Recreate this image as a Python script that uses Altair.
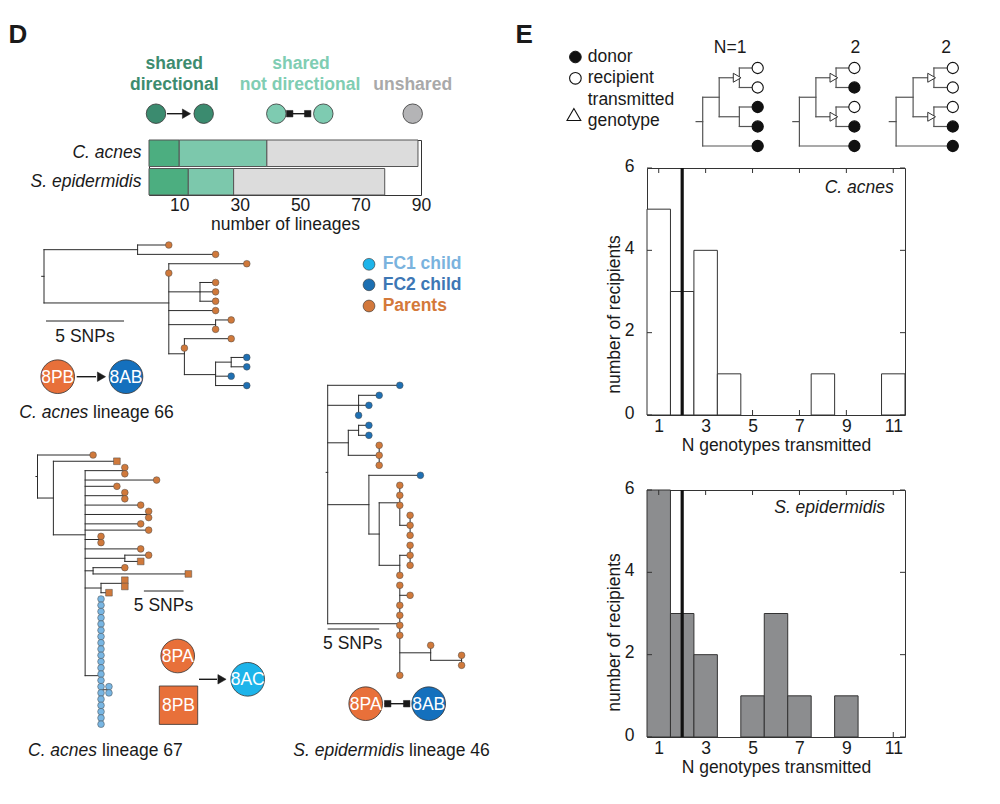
import altair as alt
import pandas as pd

FONT = "Liberation Sans"
FS = 17.5
INK = "#1a1a1a"

# ---------------- data ----------------
SPECIES = ["C. acnes", "S. epidermidis"]
SHARE_CLASSES = ["shared directional", "shared not directional", "unshared"]
LINEAGES_C_ACNES = [10, 29, 50]
LINEAGES_S_EPIDERMIDIS = [13, 15, 50]
LINEAGE_TICKS = [10, 30, 50, 70, 90]

N_GENOTYPES = [1, 2, 3, 4, 5, 6, 7, 8, 9, 10, 11]
RECIPIENTS_C_ACNES = [5, 3, 4, 1, 0, 0, 0, 1, 0, 0, 1]
RECIPIENTS_S_EPIDERMIDIS = [6, 3, 2, 0, 1, 3, 1, 0, 1, 0, 0]
MEDIAN_C_ACNES = 2
MEDIAN_S_EPIDERMIDIS = 2
GENOTYPE_TICKS = [1, 3, 5, 7, 9, 11]
RECIPIENT_TICKS = [0, 2, 4, 6]

# phylogenies as Newick strings, branch lengths in SNPs
# leaf labels: o = parent (circle), s = parent (square), b = FC2 child, c = FC1 child
TREE_CACNES_66 = ("((o:2,o:5):6,(o:5,o:0,(o:1,o:1,o:1):2,o:3,(o:1,o:0):3,"
                  "(o:3,o:0,((b:1,b:1):1,b:1,b:2):2):1):8):0.15;")
TREE_CACNES_67 = ("(o:7,(s:8,((o:0,o:0):5,o:9,o:4,(o:0,o:0):5,o:7,(o:0,o:0):8,o:7,o:8,"
                  "(o:0,o:0):2,o:7,(o:3,s:2):5,(o:4,s:12):1,((s:0,s:0):3,s:1):2,"
                  "((c:0,c:0,c:0,c:0,c:0,c:0,c:0,c:0,c:0,c:0,c:0,c:0,c:0,c:0,"
                  "c:0,c:0,c:0,c:0,c:0,c:0,c:0):0,(c@37:0,c@38:0):1):2):4):2):0.2;")
TREE_SEPI_46 = ("(b:7,(b:2,b:1,b:0):3,((b:1,b:1):1,(o:0,o:0,o:0):3):2,"
                "(b:5,((o:0,o:0,o:0,(o:0,o:0,o:0):1):2,((o:0,o:0,o:0):1,o:0):2):1):4,"
                "(o:0,o:1,o:0,o:0,o:0,o:0,(o:0,(o:0,o:0):3):3,o:0):7):0.15;")
# schematic trees: k = donor, w = recipient, t = transmitted genotype
SCHEME_TREES = [
    "(((w:1,w:1)t:1.1,(k:1,k:1):1.1):0.9,k:3):0.36;",
    "(((w:1,k:1)t:1.1,(w:1,k:1)t:1.1):0.9,k:3):0.36;",
    "(((w:1,w:1)t:1.1,(w:1,k:1)t:1.1):0.9,k:3):0.36;",
]
SCHEME_N = ["N=1", "2", "2"]

# ---------------- styles ----------------
BAR_COLORS = ["#4cae80", "#7cc8ac", "#dcdcdc"]
DG_CIRCLE, LT_CIRCLE, GR_CIRCLE = "#3b8b6f", "#7ecbb1", "#b4b4b6"
DG_TEXT, LT_TEXT, GR_TEXT = "#3d8c6f", "#80cdb3", "#a9a9a9"
ORANGE, BLUE, LIGHTBLUE, CYAN = "#d0793b", "#1f70b3", "#78b6e3", "#1db4ea"
TREE_KINDS = ["o", "s", "b", "c"]
TREE_FILLS = [ORANGE, ORANGE, BLUE, LIGHTBLUE]
TREE_SHAPES = ["circle", "square", "circle", "circle"]
MINI_KINDS = ["k", "w"]
MINI_FILLS = ["#111111", "#ffffff"]
MINI_SHAPES = ["circle", "circle"]

ONE = pd.DataFrame({"_": [0]})


def parse_newick(text):
    s = text.strip().rstrip(";")
    nodes = []
    pos = [0]

    def read_node(parent):
        idx = len(nodes)
        nodes.append({"parent": parent, "children": [], "label": "", "len": 0.0})
        if s[pos[0]] == "(":
            pos[0] += 1
            while True:
                nodes[idx]["children"].append(read_node(idx))
                ch = s[pos[0]]
                pos[0] += 1
                if ch == ")":
                    break
        start = pos[0]
        while pos[0] < len(s) and s[pos[0]] not in ":,()":
            pos[0] += 1
        nodes[idx]["label"] = s[start:pos[0]]
        if pos[0] < len(s) and s[pos[0]] == ":":
            pos[0] += 1
            start = pos[0]
            while pos[0] < len(s) and s[pos[0]] not in ",()":
                pos[0] += 1
            nodes[idx]["len"] = float(s[start:pos[0]])
        return idx

    read_node(None)
    return nodes


def tree_layout(nodes):
    n = len(nodes)
    x = [0.0] * n
    for k, nd in enumerate(nodes):
        if nd["parent"] is not None:
            x[k] = x[nd["parent"]] + nd["len"]
    y = [0.0] * n
    row = 0
    for k, nd in enumerate(nodes):
        if not nd["children"]:
            lab = nd["label"]
            if "@" in lab:
                y[k] = float(lab.split("@")[1])
            else:
                y[k] = float(row)
                row += 1
    for k in range(n - 1, -1, -1):
        ch = nodes[k]["children"]
        if ch:
            y[k] = sum(y[c] for c in ch) / len(ch)
    return x, y


def tree_chart(newick, x0, px_unit, y0, px_row, fx, fy, kinds, fills, shapes,
               dot_size, dot_stroke, dot_sw, line_color, line_w):
    nodes = parse_newick(newick)
    x, y = tree_layout(nodes)
    seg = {"x": [], "x2": [], "y": [], "y2": []}

    def add(a, b, c, d):
        seg["x"].append(a); seg["x2"].append(b); seg["y"].append(c); seg["y2"].append(d)

    for k, nd in enumerate(nodes):
        p = nd["parent"]
        if nd["len"] > 0:
            start = x[p] if p is not None else x[k] - nd["len"]
            add(start, x[k], y[k], y[k])
        if nd["children"]:
            ys = [y[c] for c in nd["children"]]
            add(x[k], x[k], min(ys), max(ys))
    leaf_idx = [k for k, nd in enumerate(nodes) if not nd["children"]]
    leaves = pd.DataFrame({
        "x": [x[k] for k in leaf_idx],
        "y": [y[k] for k in leaf_idx],
        "kind": [nodes[k]["label"].split("@")[0] for k in leaf_idx],
    })
    tri_idx = [k for k, nd in enumerate(nodes) if nd["children"] and nd["label"] == "t"]
    xmax, ymax = max(x), max(y)
    sx = alt.Scale(domain=[0, xmax], range=[fx(x0), fx(x0 + xmax * px_unit)], nice=False, zero=False)
    sy = alt.Scale(domain=[0, ymax], range=[fy(y0), fy(y0 + ymax * px_row)], nice=False, zero=False)
    layers = [
        alt.Chart(pd.DataFrame(seg)).mark_rule(color=line_color, strokeWidth=line_w, strokeCap="square").encode(
            x=alt.X("x:Q", scale=sx, axis=None), x2="x2:Q",
            y=alt.Y("y:Q", scale=sy, axis=None), y2="y2:Q"),
    ]
    if tri_idx:
        tri = pd.DataFrame({"x": [x[k] for k in tri_idx], "y": [y[k] for k in tri_idx]})
        layers.append(
            alt.Chart(tri).transform_calculate(xt="datum.x - 0.12").mark_point(
                shape="triangle-right", filled=True, fill="white", stroke="#333333",
                strokeWidth=1, size=80, opacity=1).encode(
                x=alt.X("xt:Q", scale=sx, axis=None), y=alt.Y("y:Q", scale=sy, axis=None)))
    layers.append(
        alt.Chart(leaves).mark_point(filled=True, size=dot_size, stroke=dot_stroke,
                                     strokeWidth=dot_sw, opacity=1).encode(
            x=alt.X("x:Q", scale=sx, axis=None), y=alt.Y("y:Q", scale=sy, axis=None),
            fill=alt.Fill("kind:N", scale=alt.Scale(domain=kinds, range=fills), legend=None),
            shape=alt.Shape("kind:N", scale=alt.Scale(domain=kinds, range=shapes), legend=None)))
    return layers, sx


def scale_bar(sx, start, y, fy):
    df = pd.DataFrame({"a": [start], "b": [start + 5]})
    return alt.Chart(df).mark_rule(color="#222222", strokeWidth=1).encode(
        x=alt.X("a:Q", scale=sx, axis=None), x2="b:Q", y=alt.value(fy(y)))


def txt(x, y, s, size=FS, color=INK, weight="normal", style="normal",
        align="left", baseline="middle"):
    return alt.Chart(ONE).mark_text(text=s, font=FONT, fontSize=size, color=color,
                                    fontWeight=weight, fontStyle=style, align=align,
                                    baseline=baseline).encode(x=alt.value(x), y=alt.value(y))


def dot(x, y, size, fill, shape="circle", stroke="#333333", sw=0.8):
    return alt.Chart(ONE).mark_point(shape=shape, size=size, filled=True, fill=fill,
                                     stroke=stroke, strokeWidth=sw, opacity=1).encode(
        x=alt.value(x), y=alt.value(y))


def line(x1, y1, x2, y2, color="#1a1a1a", w=1.4, opacity=1.0):
    return alt.Chart(ONE).mark_rule(color=color, strokeWidth=w, strokeOpacity=opacity).encode(
        x=alt.value(x1), y=alt.value(y1), x2=alt.value(x2), y2=alt.value(y2))


RES = dict(x="independent", y="independent", color="independent",
           fill="independent", shape="independent")

# ================= LEFT (panel D) =================
OX, OY = 148, 139
L = lambda v: v - OX
Ly = lambda v: v - OY

rows = []
for sp, vals in zip(SPECIES, [LINEAGES_C_ACNES, LINEAGES_S_EPIDERMIDIS]):
    start = 0
    for cls, v in zip(SHARE_CLASSES, vals):
        rows.append({"species": sp, "cls": cls, "start": start, "end": start + v})
        start += v
bars = alt.Chart(pd.DataFrame(rows)).mark_bar(stroke="#555555", strokeWidth=1).encode(
    x=alt.X("start:Q", scale=alt.Scale(domain=[0, 90], nice=False, zero=False),
            axis=alt.Axis(orient="bottom", values=LINEAGE_TICKS, title="number of lineages",
                          labelPadding=1, titlePadding=2, labelFlush=False)),
    x2="end:Q",
    y=alt.Y("species:N", sort=SPECIES, scale=alt.Scale(paddingInner=0.07, paddingOuter=0),
            axis=alt.Axis(orient="left", title=None, labelFontStyle="italic", labelPadding=8)),
    color=alt.Color("cls:N", scale=alt.Scale(domain=SHARE_CLASSES, range=BAR_COLORS), legend=None),
)

left_layers = [bars]
left_layers += [
    txt(L(7.5), Ly(41.5), "D", size=26, weight="bold", baseline="alphabetic"),
    txt(L(173.3), Ly(63.3), "shared", color=DG_TEXT, weight="bold", align="center"),
    txt(L(173.3), Ly(84.3), "directional", color=DG_TEXT, weight="bold", align="center"),
    txt(L(300), Ly(63.3), "shared", color=LT_TEXT, weight="bold", align="center"),
    txt(L(299), Ly(84.3), "not directional", color=LT_TEXT, weight="bold", align="center"),
    txt(L(411.7), Ly(84.3), "unshared", color=GR_TEXT, weight="bold", align="center"),
    line(L(166), Ly(112.7), L(182), Ly(112.7)),
    dot(L(185.5), Ly(112.7), 90, INK, shape="triangle-right", stroke=INK, sw=0.5),
    dot(L(155), Ly(112.7), 380, DG_CIRCLE),
    dot(L(202.7), Ly(112.7), 380, DG_CIRCLE),
    line(L(286), Ly(112.7), L(309), Ly(112.7)),
    dot(L(288.7), Ly(112.7), 42, INK, shape="square", stroke=INK, sw=0.5),
    dot(L(306.7), Ly(112.7), 42, INK, shape="square", stroke=INK, sw=0.5),
    dot(L(275.3), Ly(112.7), 380, LT_CIRCLE),
    dot(L(322.3), Ly(112.7), 380, LT_CIRCLE),
    dot(L(411.7), Ly(112.7), 380, GR_CIRCLE),
]

# tree: C. acnes lineage 66
t66, sx66 = tree_chart(TREE_CACNES_66, 43, 15.6, 244, 9.37, L, Ly, TREE_KINDS, TREE_FILLS,
                       TREE_SHAPES, 45, "#4a4a4a", 0.5, "#2b2b2b", 1)
left_layers += t66
left_layers += [
    scale_bar(sx66, 0.13, 320, Ly),
    txt(L(84), Ly(336), "5 SNPs", align="center"),
    line(L(75.7), Ly(375.7), L(95), Ly(375.7)),
    dot(L(100.5), Ly(375.7), 90, INK, shape="triangle-right", stroke=INK, sw=0.5),
    dot(L(56.7), Ly(375.7), 1134, "#e8703a"),
    txt(L(56.7), Ly(376.5), "8PB", color="white", align="center"),
    dot(L(125), Ly(375.7), 1134, "#1470bd"),
    txt(L(125), Ly(376.5), "8AB", color="white", align="center"),
    txt(L(18.3), Ly(411.7), "C. acnes", style="italic"),
    txt(L(92), Ly(411.7), "lineage 66"),
]

# tree: C. acnes lineage 67
t67, sx67 = tree_chart(TREE_CACNES_67, 36.5, 7.94, 454, 6.26, L, Ly, TREE_KINDS, TREE_FILLS,
                       TREE_SHAPES, 45, "#4a4a4a", 0.5, "#2b2b2b", 1)
left_layers += t67
left_layers += [
    scale_bar(sx67, 13.4, 590, Ly),
    txt(L(162.5), Ly(605), "5 SNPs", align="center"),
    dot(L(176.7), Ly(655), 1134, "#e8703a"),
    txt(L(176.7), Ly(655.8), "8PA", color="white", align="center"),
    dot(L(177.5), Ly(704.2), 1475, "#e8703a", shape="square"),
    txt(L(177.5), Ly(705), "8PB", color="white", align="center"),
    line(L(198), Ly(678.3), L(216), Ly(678.3)),
    dot(L(221), Ly(678.3), 90, INK, shape="triangle-right", stroke=INK, sw=0.5),
    dot(L(246.7), Ly(678.3), 1134, CYAN),
    txt(L(246.7), Ly(679.1), "8AC", color="white", align="center"),
    txt(L(27), Ly(750), "C. acnes", style="italic"),
    txt(L(101), Ly(750), "lineage 67"),
]

# tree: S. epidermidis lineage 46
t46, sx46 = tree_chart(TREE_SEPI_46, 326.7, 10.3, 384.3, 10.0, L, Ly, TREE_KINDS, TREE_FILLS,
                       TREE_SHAPES, 45, "#4a4a4a", 0.5, "#2b2b2b", 1)
left_layers += t46
left_layers += [
    scale_bar(sx46, 0, 628, Ly),
    txt(L(351.7), Ly(643.3), "5 SNPs", align="center"),
    line(L(383.7), Ly(702.7), L(408.7), Ly(702.7)),
    dot(L(386.7), Ly(702.7), 42, INK, shape="square", stroke=INK, sw=0.5),
    dot(L(405.7), Ly(702.7), 42, INK, shape="square", stroke=INK, sw=0.5),
    dot(L(364.7), Ly(702.7), 1134, "#e8703a"),
    txt(L(364.7), Ly(703.5), "8PA", color="white", align="center"),
    dot(L(427.7), Ly(702.7), 1134, "#1470bd"),
    txt(L(427.7), Ly(703.5), "8AB", color="white", align="center"),
    txt(L(292.3), Ly(750), "S. epidermidis", style="italic"),
    txt(L(408), Ly(750), "lineage 46"),
]

# sample-type legend
left_layers += [
    dot(L(368), Ly(263.3), 140, CYAN, sw=0.6),
    txt(L(381.7), Ly(263.3), "FC1 child", color="#7ab3de", weight="bold"),
    dot(L(368), Ly(283.8), 140, "#1c6fb2", sw=0.6),
    txt(L(381.7), Ly(283.8), "FC2 child", color="#3d77b5", weight="bold"),
    dot(L(368), Ly(305), 140, "#d2783c", sw=0.6),
    txt(L(381.7), Ly(305), "Parents", color="#d4793a", weight="bold"),
    line(L(503), Ly(300), L(503), Ly(301), opacity=0),
]

left = alt.layer(*left_layers).properties(width=272, height=55).resolve_scale(**RES)

# ================= RIGHT (panel E) =================
HX0 = 647.6
HW, HH = 258, 247
Rx = lambda v: v - HX0
R0y = lambda v: v - 139

# schematic header (E label, legend, example trees)
r0_layers = [
    txt(Rx(516), R0y(41.5), "E", size=26, weight="bold", baseline="alphabetic"),
    dot(Rx(576), R0y(56), 135, "#111111", stroke="#111111", sw=1),
    txt(Rx(588.3), R0y(56), "donor"),
    dot(Rx(576), R0y(77.3), 135, "white", stroke="#111111", sw=1.1),
    txt(Rx(588.3), R0y(77.3), "recipient"),
    dot(Rx(574.5), R0y(113.5), 190, "white", shape="triangle-up", stroke="#111111", sw=1.1),
    txt(Rx(588.3), R0y(99.3), "transmitted"),
    txt(Rx(588.3), R0y(120), "genotype"),
    line(Rx(516), 0, Rx(516), 12, opacity=0),
]
for nw, root, ppu, lab, lx in zip(SCHEME_TREES, [703.3, 800, 896.7], [18.33, 18.33, 18.9],
                                  SCHEME_N, [730.7, 856, 946.7]):
    lay, _ = tree_chart(nw, root, ppu, 67, 19.5, Rx, R0y, MINI_KINDS, MINI_FILLS, MINI_SHAPES,
                        125, "#111111", 1.1, "#555555", 1.2)
    r0_layers += lay
    r0_layers.append(txt(Rx(lx), R0y(46.7), lab, align="center"))

r0 = alt.layer(*r0_layers).properties(
    width=HW, height=11, view=alt.ViewBackground(stroke="transparent")).resolve_scale(**RES)


def hist_layers(counts, fill, median, label, label_x, label_y, title_y):
    df = pd.DataFrame({"n": N_GENOTYPES, "count": counts})
    HXs = alt.Scale(domain=[0.5, 11.5], nice=False, zero=False)
    HYs = alt.Scale(domain=[0, 6], nice=False, zero=False)
    tx = pd.DataFrame({"t": GENOTYPE_TICKS})
    ty = pd.DataFrame({"v": RECIPIENT_TICKS})
    tick = dict(color="#333333", strokeWidth=1)
    return [
        alt.Chart(tx).mark_rule(**tick).encode(
            x=alt.X("t:Q", scale=HXs, axis=None), y=alt.value(HH), y2=alt.value(HH - 5)),
        alt.Chart(df).transform_filter("datum.count > 0").transform_calculate(
            lo="datum.n - 0.5", hi="datum.n + 0.5").mark_bar(
            fill=fill, stroke="#333333", strokeWidth=1).encode(
            x=alt.X("lo:Q", scale=HXs,
                    axis=alt.Axis(orient="bottom", values=GENOTYPE_TICKS, format="d",
                                  title="N genotypes transmitted", labelPadding=2,
                                  titlePadding=2, labelFlush=False)),
            x2="hi:Q",
            y=alt.Y("count:Q", scale=HYs, stack=None,
                    axis=alt.Axis(orient="left", values=RECIPIENT_TICKS, format="d",
                                  title="number of recipients", labelPadding=13,
                                  labelOffset=-2,
                                  titleX=-33, titleY=title_y, titleAngle=270,
                                  titleBaseline="middle", titleAlign="center",
                                  labelFlush=False)),
            y2=alt.datum(0)),
        alt.Chart(tx).mark_rule(**tick).encode(
            x=alt.X("t:Q", scale=HXs, axis=None), y=alt.value(0), y2=alt.value(5)),
        alt.Chart(ty).mark_rule(**tick).encode(
            y=alt.Y("v:Q", scale=HYs, axis=None), x=alt.value(0), x2=alt.value(5)),
        alt.Chart(ty).mark_rule(**tick).encode(
            y=alt.Y("v:Q", scale=HYs, axis=None), x=alt.value(HW), x2=alt.value(HW - 5)),
        alt.Chart(pd.DataFrame({"m": [median]})).mark_rule(color="#111111", strokeWidth=3.2).encode(
            x=alt.X("m:Q", scale=HXs, axis=None)),
        txt(label_x, label_y, label, style="italic", align="right"),
    ]


h1_layers = hist_layers(RECIPIENTS_C_ACNES, "white", MEDIAN_C_ACNES, "C. acnes",
                        Rx(894.3), 20, 146)
h1_layers.append(line(Rx(516), -10, Rx(516), 295, opacity=0))
h1 = alt.layer(*h1_layers).properties(width=HW, height=HH).resolve_scale(**RES)

h2_layers = hist_layers(RECIPIENTS_S_EPIDERMIDIS, "#8c8d8f", MEDIAN_S_EPIDERMIDIS,
                        "S. epidermidis", Rx(885.7), 18.3, 142)
h2_layers.append(line(Rx(516), -24, Rx(516), HH, opacity=0))
h2 = alt.layer(*h2_layers).properties(width=HW, height=HH).resolve_scale(**RES)

chart = alt.hconcat(left, alt.vconcat(r0, h1, h2, spacing=1), spacing=9).properties(
    padding={"left": 0, "top": 13, "right": 5, "bottom": 5}
).configure_view(stroke="#333333", strokeWidth=1).configure_axis(
    labelFont=FONT, titleFont=FONT, labelFontSize=FS, titleFontSize=FS,
    titleFontWeight="normal", labelColor=INK, titleColor=INK, grid=False,
    domain=False, ticks=False, tickSize=0)

chart.save("out.html", embed_options={"renderer": "svg", "actions": False})
